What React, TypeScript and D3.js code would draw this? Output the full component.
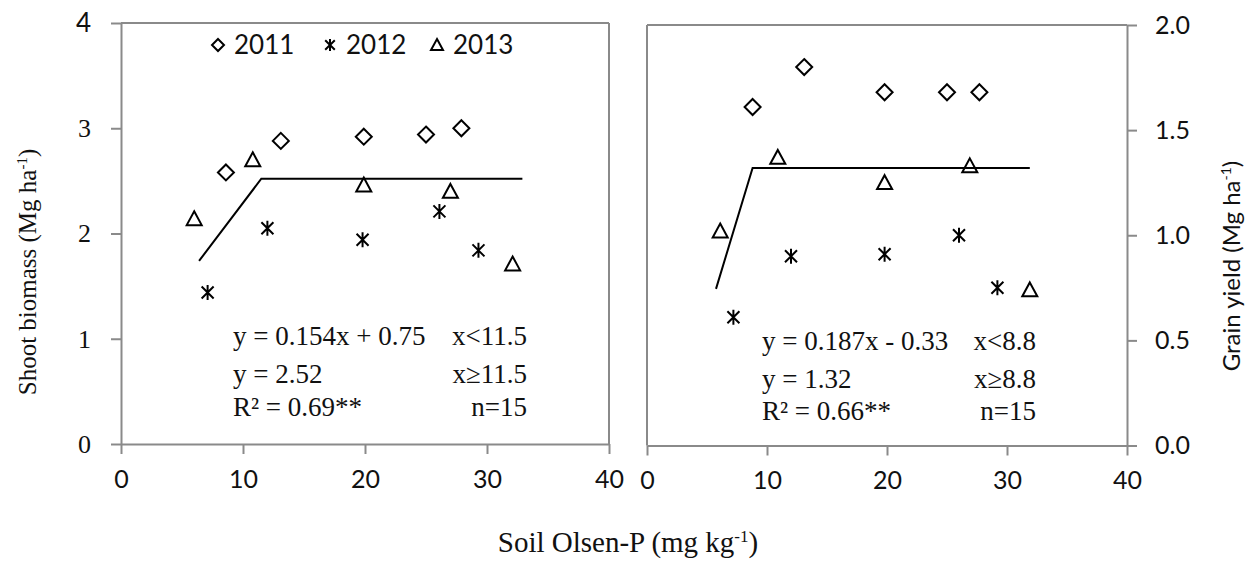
import React, { useRef, useEffect } from 'react';
import * as d3 from 'd3';

// Shoot biomass panel (Mg/ha) vs soil Olsen-P (mg/kg)
const bioX2011 = [8.6, 13.1, 19.9, 25.0, 27.9];
const bio2011 = [2.58, 2.88, 2.92, 2.94, 3.0];
const bioX2012 = [7.1, 12.0, 19.8, 26.1, 29.3];
const bio2012 = [1.44, 2.05, 1.94, 2.21, 1.84];
const bioX2013 = [6.0, 10.8, 19.9, 27.0, 32.1];
const bio2013 = [2.14, 2.7, 2.46, 2.4, 1.71];
const bioFitX = [6.4, 11.5, 32.9];
const bioFitY = [1.74, 2.52, 2.52];

// Grain yield panel
const yieldX2011 = [8.8, 13.1, 19.8, 25.0, 27.7];
const yield2011 = [1.61, 1.8, 1.68, 1.68, 1.68];
const yieldX2012 = [7.2, 12.0, 19.8, 26.0, 29.2];
const yield2012 = [0.61, 0.9, 0.91, 1.0, 0.75];
const yieldX2013 = [6.1, 10.9, 19.8, 26.9, 31.9];
const yield2013 = [1.02, 1.37, 1.25, 1.33, 0.74];
const yieldFitX = [5.75, 8.8, 31.9];
const yieldFitY = [0.745, 1.32, 1.32];

const xTicks = [0, 10, 20, 30, 40];
const bioTicks = [0, 1, 2, 3, 4];
const yieldTicks = [0, 0.5, 1, 1.5, 2];
const years = ['2011', '2012', '2013'];

const bioEq = ['y = 0.154x + 0.75', 'y = 2.52', 'R² = 0.69**'];
const bioCond = ['x<11.5', 'x≥11.5', 'n=15'];
const yieldEq = ['y = 0.187x - 0.33', 'y = 1.32', 'R² = 0.66**'];
const yieldCond = ['x<8.8', 'x≥8.8', 'n=15'];

const SERIF = '"Liberation Serif", "Times New Roman", serif';
const SANS = 'Lato, "Open Sans", sans-serif';
const GREY = '#8a8a8a';

// marker paths, centred on 0,0
const markerPath = (kind: string, s: number) => {
    if (kind === '2011') return `M0,${-s}L${s},0L0,${s}L${-s},0Z`;
    if (kind === '2013') return `M0,${-s}L${s},${s * 0.85}L${-s},${s * 0.85}Z`;
    const a = s * 0.8;
    return `M${-a},${-a}L${a},${a}M${a},${-a}L${-a},${a}M0,${-s}L0,${s}`;
};

export default function App() {
    const ref = useRef<SVGSVGElement>(null);

    useEffect(() => {
        const svg = d3.select(ref.current);
        svg.selectAll('*').remove();

        const xL = d3.scaleLinear().domain([0, 40]).range([121, 609]);
        const yL = d3.scaleLinear().domain([0, 4]).range([444, 23]);
        const xR = d3.scaleLinear().domain([0, 40]).range([647, 1127]);
        const yR = d3.scaleLinear().domain([0, 2]).range([445.5, 25]);

        //panel frames
        svg.append('line').attr('x1', 121).attr('x2', 609).attr('y1', 23).attr('y2', 23)
            .attr('stroke', GREY).attr('stroke-width', 2);
        svg.append('line').attr('x1', 609).attr('x2', 609).attr('y1', 23).attr('y2', 444)
            .attr('stroke', GREY).attr('stroke-width', 2);
        svg.append('line').attr('x1', 647).attr('x2', 1127).attr('y1', 25).attr('y2', 25)
            .attr('stroke', GREY).attr('stroke-width', 2);
        svg.append('line').attr('x1', 647).attr('x2', 647).attr('y1', 25).attr('y2', 445.5)
            .attr('stroke', GREY).attr('stroke-width', 2);

        const styleAxis = (g: any, font: string) => {
            g.selectAll('path, line').attr('stroke', GREY).attr('stroke-width', 2);
            g.selectAll('text').attr('fill', '#111').style('font-family', font).style('font-size', '25px');
        };

        //left y axis
        const gyL = svg.append('g').attr('transform', 'translate(121,0)')
            .call(d3.axisLeft(yL).tickValues(bioTicks).tickSize(10).tickSizeOuter(0).tickPadding(20).tickFormat(d3.format('d')));
        styleAxis(gyL, SERIF);
        gyL.selectAll('text').style('font-size', '26px')
            .style('font-family', (d: any) => (d === 4 ? SANS : SERIF));

        //left x axis
        const gxL = svg.append('g').attr('transform', 'translate(0,444)')
            .call(d3.axisBottom(xL).tickValues(xTicks).tickSize(10).tickSizeOuter(0).tickPadding(16));
        styleAxis(gxL, SANS);

        //right y axis
        const gyR = svg.append('g').attr('transform', 'translate(1127,0)')
            .call(d3.axisRight(yR).tickValues(yieldTicks).tickSize(10).tickSizeOuter(0).tickPadding(18).tickFormat(d3.format('.1f')));
        styleAxis(gyR, SANS);

        //right x axis
        const gxR = svg.append('g').attr('transform', 'translate(0,445.5)')
            .call(d3.axisBottom(xR).tickValues(xTicks).tickSize(10).tickSizeOuter(0).tickPadding(16));
        styleAxis(gxR, SANS);

        const drawPanel = (xs: any, ys: any, sets: number[][][], fitX: number[], fitY: number[]) => {
            const line = d3.line<number>().x((_, i) => xs(fitX[i])).y((v) => ys(v));
            svg.append('path').attr('d', line(fitY)).attr('fill', 'none')
                .attr('stroke', '#000').attr('stroke-width', 2);
            sets.forEach(([px, py], k) => {
                const size = years[k] === '2012' ? 7.5 : years[k] === '2011' ? 8 : 7.5;
                svg.append('g').selectAll('path').data(py).enter().append('path')
                    .attr('transform', (v, i) => `translate(${xs(px[i])},${ys(v)})`)
                    .attr('d', markerPath(years[k], size))
                    .attr('fill', 'none').attr('stroke', '#000').attr('stroke-width', 2);
            });
        };

        drawPanel(xL, yL, [[bioX2011, bio2011], [bioX2012, bio2012], [bioX2013, bio2013]], bioFitX, bioFitY);
        drawPanel(xR, yR, [[yieldX2011, yield2011], [yieldX2012, yield2012], [yieldX2013, yield2013]], yieldFitX, yieldFitY);

        //equations
        const eqText = (left: number, right: number, bases: number[], eq: string[], cond: string[]) => {
            eq.forEach((t, i) => {
                svg.append('text').attr('x', left).attr('y', bases[i]).text(t)
                    .style('font-family', SERIF).style('font-size', '27px').attr('fill', '#111');
                svg.append('text').attr('x', right).attr('y', bases[i]).text(cond[i])
                    .attr('text-anchor', 'end')
                    .style('font-family', SERIF).style('font-size', '27px').attr('fill', '#111');
            });
        };
        eqText(233, 527, [345, 383, 416], bioEq, bioCond);
        eqText(762, 1036, [350, 388, 420], yieldEq, yieldCond);

        //legend
        const legX = [218, 330, 437];
        years.forEach((y, i) => {
            svg.append('path').attr('transform', `translate(${legX[i]},45)`)
                .attr('d', markerPath(y, 6)).attr('fill', 'none')
                .attr('stroke', '#000').attr('stroke-width', 2);
            svg.append('text').attr('x', legX[i] + 16).attr('y', 54).text(y)
                .style('font-family', SANS).style('font-size', '26px').attr('fill', '#111');
        });

        //axis titles
        const leftTitle = svg.append('text').attr('transform', 'translate(36,272) rotate(-90)')
            .attr('text-anchor', 'middle').style('font-family', SERIF).style('font-size', '25px').attr('fill', '#111');
        leftTitle.append('tspan').text('Shoot biomass (Mg ha');
        leftTitle.append('tspan').text('-1').attr('dy', -9).style('font-size', '15px');
        leftTitle.append('tspan').text(')').attr('dy', 9);

        const rightTitle = svg.append('text').attr('transform', 'translate(1240,266) rotate(-90)')
            .attr('text-anchor', 'middle').style('font-family', SANS).style('font-size', '24px').attr('fill', '#111');
        rightTitle.append('tspan').text('Grain yield (Mg ha');
        rightTitle.append('tspan').text('-1').attr('dy', -9).style('font-size', '14px');
        rightTitle.append('tspan').text(')').attr('dy', 9);

        const bottomTitle = svg.append('text').attr('x', 628).attr('y', 552)
            .attr('text-anchor', 'middle').style('font-family', SERIF).style('font-size', '29px').attr('fill', '#111');
        bottomTitle.append('tspan').text('Soil Olsen-P (mg kg');
        bottomTitle.append('tspan').text('-1').attr('dy', -10).style('font-size', '17px');
        bottomTitle.append('tspan').text(')').attr('dy', 10);
    }, []);

    return (
        <svg ref={ref} width={1248} height={561}
            style={{ position: 'absolute', left: 0, top: 0, background: '#fff' }} />
    );
}
